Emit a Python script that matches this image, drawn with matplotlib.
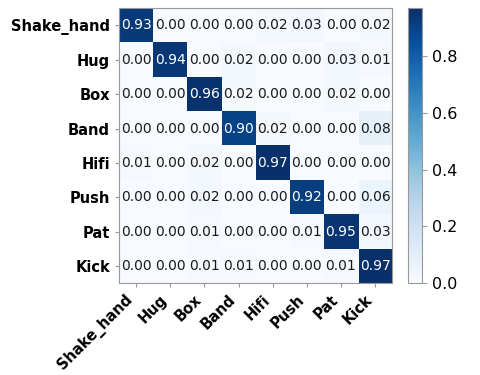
import matplotlib
matplotlib.use("Agg")
import matplotlib.pyplot as plt
import numpy as np

labels = ["Shake_hand", "Hug", "Box", "Band", "Hifi", "Push", "Pat", "Kick"]
row_shake = [0.93, 0.00, 0.00, 0.00, 0.02, 0.03, 0.00, 0.02]
row_hug   = [0.00, 0.94, 0.00, 0.02, 0.00, 0.00, 0.03, 0.01]
row_box   = [0.00, 0.00, 0.96, 0.02, 0.00, 0.00, 0.02, 0.00]
row_band  = [0.00, 0.00, 0.00, 0.90, 0.02, 0.00, 0.00, 0.08]
row_hifi  = [0.01, 0.00, 0.02, 0.00, 0.97, 0.00, 0.00, 0.00]
row_push  = [0.00, 0.00, 0.02, 0.00, 0.00, 0.92, 0.00, 0.06]
row_pat   = [0.00, 0.00, 0.01, 0.00, 0.00, 0.01, 0.95, 0.03]
row_kick  = [0.00, 0.00, 0.01, 0.01, 0.00, 0.00, 0.01, 0.97]

cm = np.array([row_shake, row_hug, row_box, row_band, row_hifi, row_push, row_pat, row_kick])

fig = plt.figure(figsize=(4.8, 3.75), dpi=100)
ax = fig.add_axes([0.248, 0.245, 0.569, 0.733])
im = ax.imshow(cm, cmap="Blues", vmin=0, vmax=cm.max(), aspect="auto")
n = len(labels)
for i in range(n):
    for j in range(n):
        v = cm[i, j]
        ax.text(j, i, f"{v:.2f}", ha="center", va="center", fontsize=10,
                color="white" if v > cm.max() / 2 else "#1a1a1a")
ax.set_xticks(range(n))
ax.set_yticks(range(n))
ax.set_xticklabels(labels, rotation=45, ha="right",
                   fontsize=10.5, fontweight="bold")
ax.set_yticklabels(labels, fontsize=10.5, fontweight="bold")
for s in ax.spines.values():
    s.set_color("#999999")
ax.tick_params(color="#999999", length=3)

cax = fig.add_axes([0.85, 0.245, 0.029, 0.733])
cb = fig.colorbar(im, cax=cax)
cb.set_ticks([0.0, 0.2, 0.4, 0.6, 0.8])
cb.ax.tick_params(labelsize=11.5, color="#999999")
cb.outline.set_edgecolor("#999999")

fig.savefig("out.png", dpi=100)
